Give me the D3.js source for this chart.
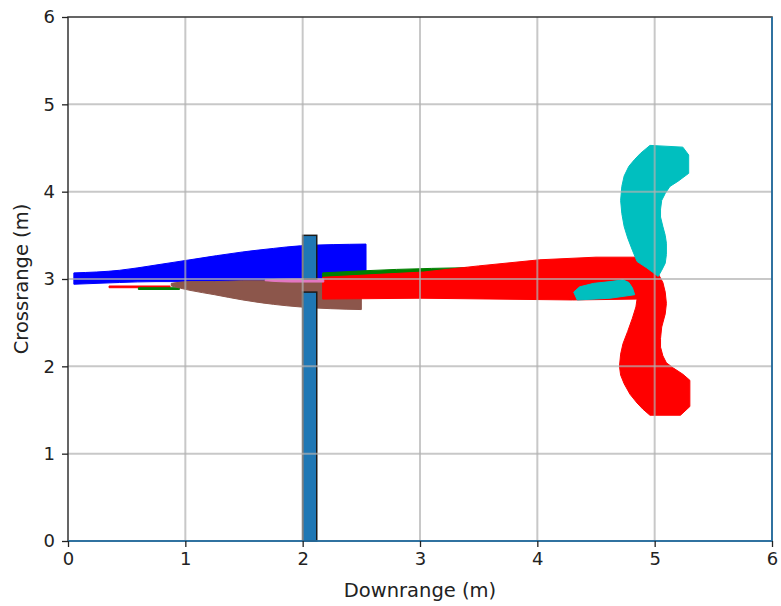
<!DOCTYPE html>
<html>
<head>
<meta charset="utf-8">
<script src="https://cdn.jsdelivr.net/npm/d3@7"></script>
<style>
  body { margin: 0; background: #fff; }
  text { font-family: "DejaVu Sans", sans-serif; fill: #222; }
</style>
</head>
<body>
<div id="chart"></div>
<script>
// Axis ticks
var xTicks = [0, 1, 2, 3, 4, 5, 6];
var yTicks = [0, 1, 2, 3, 4, 5, 6];

// Horizontal bands: [downrange, low crossrange, high crossrange]
var blueBand = [[0.05, 2.94, 3.07], [0.44, 2.96, 3.10], [0.75, 2.97, 3.16], [1.04, 2.97, 3.22], [1.49, 2.97, 3.31], [1.75, 2.98, 3.35], [1.98, 2.98, 3.38], [2.54, 2.99, 3.40]];
var redThin = [[0.35, 2.90, 2.92], [0.87, 2.90, 2.92]];
var greenThin = [[0.60, 2.88, 2.90], [0.95, 2.88, 2.90]];
var brownBand = [[0.88, 2.92, 2.95], [1.04, 2.87, 2.97], [1.25, 2.82, 2.97], [1.49, 2.76, 2.98], [1.75, 2.71, 2.98], [1.98, 2.68, 2.99], [2.50, 2.65, 2.99]];
var pinkBand = [[1.68, 2.98, 2.99], [1.90, 2.965, 3.0], [2.18, 2.965, 3.0]];
var greenTop = [[2.17, 3.01, 3.07], [2.80, 3.04, 3.11], [3.40, 3.11, 3.13]];

// Outlines: [downrange, crossrange]
var redPath = [[2.17, 3.02], [3.03, 3.08], [3.50, 3.15], [4.02, 3.22], [4.50, 3.25], [4.85, 3.25], [4.92, 3.21],
  [4.98, 3.14], [5.03, 3.06], [5.07, 2.96], [5.09, 2.85], [5.10, 2.72], [5.09, 2.60], [5.06, 2.45],
  [5.05, 2.32], [5.05, 2.22], [5.07, 2.12], [5.10, 2.04], [5.16, 1.98], [5.24, 1.91], [5.30, 1.84],
  [5.30, 1.54], [5.22, 1.44], [4.96, 1.44], [4.90, 1.51], [4.85, 1.58], [4.79, 1.68], [4.74, 1.80],
  [4.71, 1.90], [4.70, 2.00], [4.71, 2.14], [4.73, 2.26], [4.77, 2.40], [4.81, 2.55], [4.84, 2.68],
  [4.85, 2.77], [4.30, 2.76], [3.00, 2.78], [2.17, 2.77]];
var cyanUpper = [[4.96, 4.53], [5.24, 4.51], [5.29, 4.42], [5.29, 4.21], [5.20, 4.12], [5.13, 4.06], [5.09, 3.98],
  [5.06, 3.90], [5.05, 3.80], [5.05, 3.71], [5.07, 3.60], [5.09, 3.50], [5.10, 3.41], [5.10, 3.28],
  [5.09, 3.18], [5.06, 3.10], [5.03, 3.03], [4.98, 3.08], [4.93, 3.13], [4.85, 3.20], [4.81, 3.33],
  [4.77, 3.47], [4.74, 3.60], [4.72, 3.75], [4.71, 3.90], [4.72, 4.06], [4.74, 4.18], [4.78, 4.29],
  [4.83, 4.37], [4.88, 4.44]];
var cyanLower = [[4.31, 2.85], [4.36, 2.91], [4.48, 2.95], [4.62, 2.97], [4.73, 2.99], [4.78, 2.96], [4.81, 2.90],
  [4.83, 2.82], [4.62, 2.78], [4.34, 2.76]];

// Pole: downrange span and crossrange segments
var poleX = [2.0, 2.12];
var poleSegments = [[0, 2.85], [3.0, 3.5]];
// Walls along bottom and right edge
var walls = [[[0, 0], [6, 0]], [[6, 0], [6, 6]]];

var margin = {top: 17, right: 9, bottom: 65, left: 68},
    width = 781 - margin.left - margin.right,
    height = 606 - margin.top - margin.bottom;

var svg = d3.select("#chart").append("svg")
    .attr("width", 781)
    .attr("height", 606)
    .append("g")
    .attr("transform", "translate(" + margin.left + "," + margin.top + ")");

var x = d3.scaleLinear().domain([0, 6]).range([0, width]);
var y = d3.scaleLinear().domain([0, 6]).range([height, 0]);

var band = d3.area()
    .x(function(d) { return x(d[0]); })
    .y0(function(d) { return y(d[1]); })
    .y1(function(d) { return y(d[2]); })
    .curve(d3.curveMonotoneX);
var outline = d3.line()
    .x(function(d) { return x(d[0]); })
    .y(function(d) { return y(d[1]); })
    .curve(d3.curveLinearClosed);

var shapes = svg.append("g");
function drawBand(data, color) {
    shapes.append("path").attr("d", band(data)).attr("fill", color).attr("stroke", color).attr("stroke-width", 1);
}
function drawOutline(data, color) {
    shapes.append("path").attr("d", outline(data)).attr("fill", color).attr("stroke", color).attr("stroke-width", 1);
}
drawBand(redThin, "#ff0000");
drawBand(greenThin, "#008000");
drawBand(blueBand, "#0000ff");
drawBand(brownBand, "#8c564b");
drawBand(greenTop, "#008000");
drawOutline(redPath, "#ff0000");
drawBand(pinkBand, "#e377c2");
drawOutline(cyanUpper, "#00bfbf");
drawOutline(cyanLower, "#00bfbf");

// Pole
shapes.selectAll("rect.pole")
    .data(poleSegments)
    .join("rect")
    .attr("class", "pole")
    .attr("x", x(poleX[0]))
    .attr("width", x(poleX[1]) - x(poleX[0]))
    .attr("y", function(d) { return y(d[1]); })
    .attr("height", function(d) { return y(d[0]) - y(d[1]); })
    .attr("fill", "#1f77b4")
    .attr("stroke", "#1a1a1a")
    .attr("stroke-width", 1.5);

// Grid on top
var grid = svg.append("g").attr("stroke", "#b0b0b0").attr("stroke-opacity", 0.7).attr("stroke-width", 2);
grid.selectAll("line.gx").data(xTicks.slice(1, -1)).join("line")
    .attr("x1", function(d) { return x(d); }).attr("x2", function(d) { return x(d); })
    .attr("y1", 0).attr("y2", height);
grid.selectAll("line.gy").data(yTicks.slice(1, -1)).join("line")
    .attr("y1", function(d) { return y(d); }).attr("y2", function(d) { return y(d); })
    .attr("x1", 0).attr("x2", width);

// Frame
svg.append("rect").attr("width", width).attr("height", height)
    .attr("fill", "none").attr("stroke", "#333").attr("stroke-width", 1.5);

// Walls
svg.append("g").selectAll("line").data(walls).join("line")
    .attr("x1", function(d) { return x(d[0][0]); }).attr("y1", function(d) { return y(d[0][1]); })
    .attr("x2", function(d) { return x(d[1][0]); }).attr("y2", function(d) { return y(d[1][1]); })
    .attr("stroke", "#1f77b4").attr("stroke-width", 1.5);

// Axes
var xAxis = svg.append("g")
    .attr("transform", "translate(0," + height + ")")
    .call(d3.axisBottom(x).tickValues(xTicks).tickFormat(d3.format("d")).tickSize(6).tickPadding(5));
var yAxis = svg.append("g")
    .call(d3.axisLeft(y).tickValues(yTicks).tickFormat(d3.format("d")).tickSize(6).tickPadding(7));
[xAxis, yAxis].forEach(function(a) {
    a.select(".domain").remove();
    a.selectAll("line").attr("stroke", "#222").attr("stroke-width", 1.3);
    a.selectAll("text").attr("font-family", "DejaVu Sans, sans-serif").attr("font-size", 18).attr("fill", "#222");
});

// X axis label
svg.append("text")
    .attr("x", width / 2)
    .attr("y", height + 56)
    .style("text-anchor", "middle")
    .attr("font-size", 19.5)
    .text("Downrange (m)");

// Y axis label
svg.append("text")
    .attr("transform", "rotate(-90)")
    .attr("y", -40)
    .attr("x", -height / 2)
    .style("text-anchor", "middle")
    .attr("font-size", 19.5)
    .text("Crossrange (m)");
</script>
</body>
</html>
